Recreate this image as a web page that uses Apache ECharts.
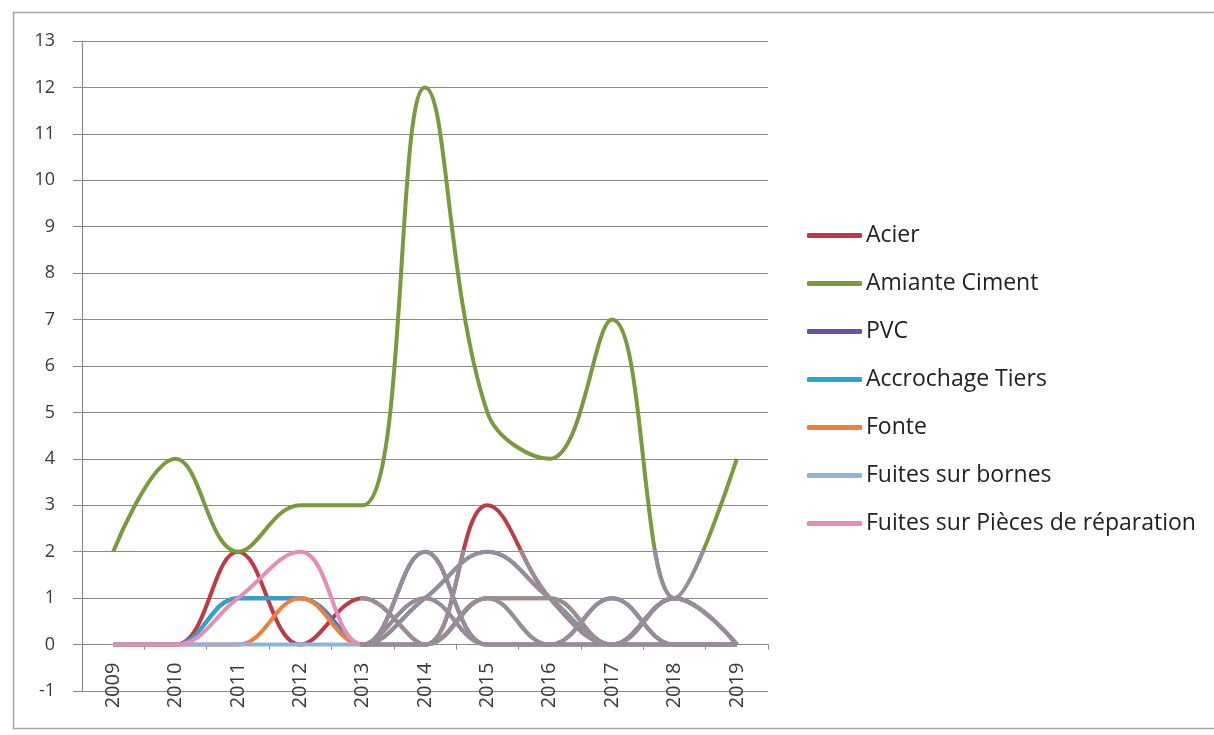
<!DOCTYPE html>
<html>
<head>
<meta charset="utf-8">
<script src="https://cdn.jsdelivr.net/npm/echarts@6/dist/echarts.min.js"></script>
<style>
  html, body { margin: 0; padding: 0; background: #fff; }
  #chart { width: 1214px; height: 735px; }
</style>
</head>
<body>
<div id="chart"></div>
<script>
// Années
const years = ['2009','2010','2011','2012','2013','2014','2015','2016','2017','2018','2019'];

// Nombre de fuites par matériau / cause
const acier      = [0, 0, 2, 0, 1, 0, 3, 1, 0, 1, 0];
const amiante    = [2, 4, 2, 3, 3, 12, 5, 4, 7, 1, 4];
const pvc        = [0, 0, 1, 1, 0, 2, 0, 0, 1, 0, 0];
const accrochage = [0, 0, 1, 1, 0, 1, 2, 1, 0, 1, 0];
const fonte      = [0, 0, 0, 1, 0, 0, 1, 1, 0, 0, 0];
const bornes     = [0, 0, 0, 0, 0, 0, 1, 0, 0, 0, 0];
const pieces     = [0, 0, 1, 2, 0, 1, 0, 0, 0, 1, 0];

const seriesNames = ['Acier', 'Amiante Ciment', 'PVC', 'Accrochage Tiers', 'Fonte',
                     'Fuites sur bornes', 'Fuites sur Pièces de réparation'];
const seriesData  = [acier, amiante, pvc, accrochage, fonte, bornes, pieces];
const colors = ['#BE3A44', '#7A9A3E', '#6B52A3', '#2AA6C8', '#F07F3C', '#8FB3E0', '#E38DB8'];
const grey = '#978D99';

// Y axis range
const yMin = -1, yMax = 13;
// Faded zone: from 2013 onwards, below 2
const fadeFromIndex = 4, fadeBelow = 2;

// Plot area (pixels)
const G = { left: 82, top: 41, width: 686, height: 650 };
const band = G.width / years.length;
const unit = G.height / (yMax - yMin);
const fadeGrid = {
  left: G.left + (fadeFromIndex + 0.5) * band,
  top: G.top + (yMax - fadeBelow) * unit,
  width: (years.length - fadeFromIndex - 0.5) * band,
  height: (fadeBelow - yMin) * unit
};
// The category axis sits on the zero line
const xAxisOffset = -(0 - yMin) * unit;

const font = '"Open Sans", Lato, sans-serif';
const axisGrey = '#8a8a8a';
const SMOOTH = 0.4;

const mainSeries = seriesData.map((d, i) => ({
  name: seriesNames[i],
  type: 'line',
  xAxisIndex: 0, yAxisIndex: 0,
  data: d,
  smooth: SMOOTH,
  symbol: 'none',
  lineStyle: { width: 4, color: colors[i] },
  itemStyle: { color: colors[i] },
  z: 3
}));

const fadedSeries = seriesData.map((d, i) => ({
  name: seriesNames[i] + ' ',
  type: 'line',
  xAxisIndex: 1, yAxisIndex: 1,
  data: d.map((v, k) => [k, v]),
  smooth: SMOOTH,
  symbol: 'none',
  clip: true,
  lineStyle: { width: 4, color: grey },
  itemStyle: { color: grey },
  z: 4
}));

const chart = echarts.init(document.getElementById('chart'), null, { renderer: 'canvas' });
chart.setOption({
  animation: false,
  backgroundColor: '#ffffff',
  textStyle: { fontFamily: font },
  grid: [
    { left: G.left, top: G.top, width: G.width, height: G.height, containLabel: false, outerBoundsMode: 'none' },
    { left: fadeGrid.left, top: fadeGrid.top, width: fadeGrid.width, height: fadeGrid.height, containLabel: false, outerBoundsMode: 'none' }
  ],
  xAxis: [
    {
      type: 'category', gridIndex: 0, data: years, boundaryGap: true,
      position: 'bottom', offset: xAxisOffset,
      axisLine: { show: true, onZero: false, lineStyle: { color: axisGrey, width: 1.2 } },
      axisTick: { show: true, length: 5, interval: 0, lineStyle: { color: axisGrey } },
      axisLabel: { rotate: 90, margin: 18, fontSize: 20, color: '#3a3a3a', fontFamily: font, interval: 0 },
      splitLine: { show: false }
    },
    {
      type: 'value', gridIndex: 1, show: false,
      min: fadeFromIndex, max: years.length - 0.5
    }
  ],
  yAxis: [
    {
      type: 'value', gridIndex: 0, min: yMin, max: yMax, interval: 1,
      axisLine: { show: true, lineStyle: { color: axisGrey, width: 1.2 } },
      axisTick: { show: true, length: 9, inside: false, lineStyle: { color: axisGrey } },
      axisLabel: { margin: 27, fontSize: 18, color: '#3a3a3a', fontFamily: font },
      splitLine: { show: true, lineStyle: { color: axisGrey, width: 1.2 } }
    },
    {
      type: 'value', gridIndex: 1, show: false,
      min: yMin, max: fadeBelow, splitLine: { show: false }
    }
  ],
  legend: {
    orient: 'vertical',
    left: 807, top: 224,
    padding: 0,
    itemWidth: 55, itemHeight: 5, itemGap: 25,
    icon: 'roundRect',
    data: seriesNames,
    textStyle: { fontSize: 23, color: '#222', fontFamily: font, padding: [0, 0, 0, -1] }
  },
  graphic: [
    { type: 'polyline', shape: { points: [[1214, 12.5], [13.5, 12.5], [13.5, 728.5], [1214, 728.5]] },
      style: { stroke: '#a6a6a6', lineWidth: 1.5, fill: null }, silent: true }
  ],
  series: mainSeries.concat(fadedSeries)
});
</script>
</body>
</html>
